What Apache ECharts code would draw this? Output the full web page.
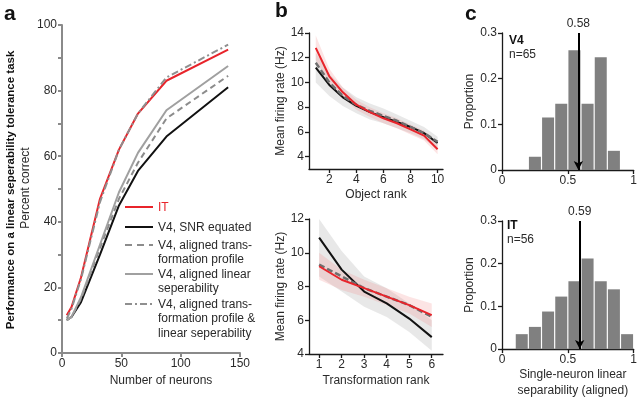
<!DOCTYPE html>
<html><head><meta charset="utf-8">
<script src="https://cdn.jsdelivr.net/npm/echarts@6/dist/echarts.min.js"></script>
<style>html,body{margin:0;padding:0;background:#fff}#c{width:640px;height:400px}</style>
</head><body><div id="c"></div>
<script>
// ---- Panel a data ----
const neurons = [4, 8, 16, 32, 48, 64, 88, 140];
const perfIT = [11.5, 14, 23, 47, 62, 73, 83, 92.5];
const perfV4SNR = [10, 11, 15.5, 30, 45, 55.5, 66, 81];
const perfAlignedTrans = [10, 11, 16.5, 32, 47, 58, 71.5, 84.5];
const perfAlignedLinSep = [10, 11, 17, 33, 49, 61, 74, 87.5];
const perfAlignedBoth = [10.5, 13.5, 22.5, 46, 62, 73, 84, 94];
const legendNames = ['IT', 'V4, SNR equated', 'V4, aligned trans-\nformation profile',
  'V4, aligned linear\nseperability', 'V4, aligned trans-\nformation profile &\nlinear seperability'];

// ---- Panel b data ----
const objRank = [1, 2, 3, 4, 5, 6, 7, 8, 9, 10];
const objIT = [12.8, 10.5, 9.2, 8.2, 7.6, 7.1, 6.7, 6.2, 5.7, 4.6];
const objITLo = [11.8, 9.9, 8.8, 7.8, 7.2, 6.7, 6.3, 5.8, 5.3, 4.2];
const objITHi = [13.8, 11.1, 9.6, 8.6, 8.0, 7.5, 7.1, 6.6, 6.1, 5.0];
const objV4 = [11.2, 9.8, 8.8, 8.1, 7.6, 7.2, 6.8, 6.4, 5.9, 5.1];
const objV4Aligned = [11.6, 10.0, 8.9, 8.2, 7.7, 7.3, 6.9, 6.4, 5.9, 5.2];
const objV4Lo = [10.0, 8.9, 8.1, 7.5, 7.0, 6.7, 6.3, 5.9, 5.4, 4.6];
const objV4Hi = [12.4, 10.7, 9.6, 8.8, 8.3, 7.9, 7.4, 6.9, 6.4, 5.6];

const trRank = [1, 2, 3, 4, 5, 6];
const trIT = [9.2, 8.4, 7.9, 7.4, 6.9, 6.3];
const trITLo = [8.4, 7.8, 7.4, 6.9, 6.4, 5.6];
const trITHi = [10.0, 9.0, 8.4, 7.9, 7.4, 7.0];
const trV4 = [10.9, 9.0, 7.7, 7.0, 6.1, 5.0];
const trV4Aligned = [9.3, 8.6, 7.9, 7.4, 6.9, 6.2];
const trV4Lo = [8.6, 7.7, 6.8, 6.2, 5.3, 4.2];
const trV4Hi = [12.0, 10.1, 8.6, 7.9, 7.0, 6.0];

// ---- Panel c data ----
const v4BinCenters = [0.25, 0.35, 0.45, 0.55, 0.65, 0.75, 0.85];
const v4Props = [0.029, 0.115, 0.145, 0.262, 0.145, 0.247, 0.042];
const v4Mean = 0.58;
const itBinCenters = [0.15, 0.25, 0.35, 0.45, 0.55, 0.65, 0.75, 0.85, 0.95];
const itProps = [0.035, 0.052, 0.088, 0.123, 0.159, 0.212, 0.159, 0.14, 0.035];
const itMean = 0.59;

const FONT = '"Liberation Sans", Arial, Helvetica, sans-serif';
const TXT = '#2a2a2a';
const RED = '#e8242b';

const zip = (xs, ys) => xs.map((x, i) => [x, ys[i]]);

function axisBase(color, width) {
  return {
    axisLine: { show: true, onZero: false, lineStyle: { color: color, width: width } },
    axisTick: { show: true, inside: false, length: 4, lineStyle: { color: color, width: width } },
    axisLabel: { color: TXT, fontSize: 12, fontFamily: FONT, margin: 5 },
    splitLine: { show: false },
    nameTextStyle: { color: TXT, fontSize: 12, fontFamily: FONT },
  };
}

// shaded band drawn through the axes' own scales
function band(xi, xs, lo, hi, color) {
  return {
    type: 'custom', xAxisIndex: xi, yAxisIndex: xi, silent: true, z: 1,
    data: xs.map((x, i) => [x, lo[i], hi[i]]),
    encode: { x: 0, y: [1, 2] },
    renderItem: function (params, api) {
      if (params.dataIndex !== 0) return null;
      const upper = xs.map((x, i) => api.coord([x, hi[i]]));
      const lower = xs.map((x, i) => api.coord([x, lo[i]])).reverse();
      return { type: 'polygon', shape: { points: upper.concat(lower) }, style: { fill: color } };
    },
  };
}
function line(xi, yi, xs, ys, color, width, type, z) {
  return { type: 'line', xAxisIndex: xi, yAxisIndex: yi, data: zip(xs, ys), symbol: 'none',
    lineStyle: { color: color, width: width, type: type || 'solid' }, z: z || 3 };
}

const grayA = '#8a8a8a';
const axBlack = '#1a1a1a';

const option = {
  animation: false,
  backgroundColor: '#fff',
  textStyle: { fontFamily: FONT },
  grid: [
    { left: 62, right: 400, top: 25, bottom: 47 },
    { left: 309, right: 197, top: 33, bottom: 231 },
    { left: 309, right: 197, top: 219, bottom: 46 },
    { left: 502, right: 0, top: 33, bottom: 230 },
    { left: 502, right: 0, top: 221, bottom: 45 },
  ],
  xAxis: [
    Object.assign(axisBase(grayA, 2), { gridIndex: 0, type: 'value', min: 0, max: 150, interval: 50,
      name: 'Number of neurons', nameLocation: 'middle', nameGap: 21,
      nameTextStyle: { color: TXT, fontSize: 12, fontFamily: FONT, padding: [0, 0, 0, 20] } }),
    Object.assign(axisBase(axBlack, 1.3), { gridIndex: 1, type: 'value', min: 0.5, max: 10.4,
      name: 'Object rank', nameLocation: 'middle', nameGap: 20 }),
    Object.assign(axisBase(axBlack, 1.3), { gridIndex: 2, type: 'value', min: 0.55, max: 6.5,
      name: 'Transformation rank', nameLocation: 'middle', nameGap: 21 }),
    Object.assign(axisBase(axBlack, 1.3), { gridIndex: 3, type: 'value', min: 0, max: 1 }),
    Object.assign(axisBase(axBlack, 1.3), { gridIndex: 4, type: 'value', min: 0, max: 1,
      name: 'Single-neuron linear\nseparability (aligned)', nameLocation: 'middle', nameGap: 10,
      nameTextStyle: { color: TXT, fontSize: 12, fontFamily: FONT, lineHeight: 16, verticalAlign: 'top', padding: [0, 0, 0, 10] } }),
  ],
  yAxis: [
    Object.assign(axisBase(grayA, 2), { gridIndex: 0, type: 'value', min: 0, max: 100, interval: 10 }),
    Object.assign(axisBase(axBlack, 1.3), { gridIndex: 1, type: 'value', min: 3, max: 14,
      name: 'Mean firing rate (Hz)', nameLocation: 'middle', nameGap: 22 }),
    Object.assign(axisBase(axBlack, 1.3), { gridIndex: 2, type: 'value', min: 4, max: 12, interval: 2,
      name: 'Mean firing rate (Hz)', nameLocation: 'middle', nameGap: 22 }),
    Object.assign(axisBase(axBlack, 1.3), { gridIndex: 3, type: 'value', min: 0, max: 0.3, interval: 0.1,
      name: 'Proportion', nameLocation: 'middle', nameGap: 26 }),
    Object.assign(axisBase(axBlack, 1.3), { gridIndex: 4, type: 'value', min: 0, max: 0.3, interval: 0.1,
      name: 'Proportion', nameLocation: 'middle', nameGap: 26 }),
  ],
  series: [],
  graphic: [],
};

// custom tick placements
option.yAxis[0].axisLabel.formatter = v => (v % 20 === 0 ? String(v) : '');
option.xAxis[1].axisLabel.customValues = [2, 4, 6, 8, 10];
option.xAxis[1].axisTick.customValues = [2, 4, 6, 8, 10];
option.yAxis[1].axisLabel.customValues = [4, 6, 8, 10, 12, 14];
option.yAxis[1].axisTick.customValues = [4, 6, 8, 10, 12, 14];
option.xAxis[2].axisLabel.customValues = [1, 2, 3, 4, 5, 6];
option.xAxis[2].axisTick.customValues = [1, 2, 3, 4, 5, 6];
[3, 4].forEach(i => {
  option.xAxis[i].axisLabel.customValues = [0, 0.5, 1];
  option.xAxis[i].axisTick.customValues = [0, 0.5, 1];
});

// Panel a series
option.series.push(
  line(0, 0, neurons, perfV4SNR, '#111', 2),
  line(0, 0, neurons, perfAlignedTrans, '#8c8c8c', 2, [6, 4]),
  line(0, 0, neurons, perfAlignedLinSep, '#a0a0a0', 2),
  line(0, 0, neurons, perfIT, RED, 2),
  line(0, 0, neurons, perfAlignedBoth, '#8f8f8f', 2, [7, 3, 2, 3], 4),
);

// Panel b series
option.series.push(
  band(1, objRank, objV4Lo, objV4Hi, 'rgba(190,190,190,0.35)'),
  band(1, objRank, objITLo, objITHi, 'rgba(240,130,130,0.22)'),
  line(1, 1, objRank, objV4, '#111', 2),
  line(1, 1, objRank, objV4Aligned, '#6f6f6f', 2.5, [6, 3]),
  line(1, 1, objRank, objIT, RED, 2),
  band(2, trRank, trV4Lo, trV4Hi, 'rgba(190,190,190,0.35)'),
  band(2, trRank, trITLo, trITHi, 'rgba(240,130,130,0.22)'),
  line(2, 2, trRank, trV4, '#111', 2),
  line(2, 2, trRank, trV4Aligned, '#6f6f6f', 2.5, [6, 3]),
  line(2, 2, trRank, trIT, RED, 2),
);

// Panel c series
function hist(xi, centers, props, mean) {
  return { type: 'bar', xAxisIndex: xi, yAxisIndex: xi, data: zip(centers, props), barWidth: 12,
    itemStyle: { color: '#808080' },
    markLine: { silent: true, symbol: ['none', 'arrow'], symbolSize: [7, 9],
      lineStyle: { color: '#000', width: 2, type: 'solid' },
      label: { show: true, position: 'start', formatter: String(mean), color: TXT, fontSize: 12, fontFamily: FONT, distance: 3 },
      data: [[{ coord: [mean, 0.3] }, { coord: [mean, 0] }]] } };
}
option.series.push(hist(3, v4BinCenters, v4Props, v4Mean), hist(4, itBinCenters, itProps, itMean));

// Graphics: panel letters, axis titles, legend, annotations
const G = option.graphic;
[['a', 4, 4], ['b', 275, 1], ['c', 465, 4]].forEach(([t, x, y]) =>
  G.push({ type: 'text', left: x, top: y, style: { text: t, font: 'bold 21px ' + FONT, fill: '#111' } }));
G.push({ type: 'text', x: 11, y: 190, rotation: Math.PI / 2,
  style: { text: 'Performance on a linear seperability tolerance task', font: 'bold 11.5px ' + FONT, fill: '#111', align: 'center', verticalAlign: 'middle' } });
G.push({ type: 'text', x: 26, y: 188, rotation: Math.PI / 2,
  style: { text: 'Percent correct', font: '12px ' + FONT, fill: TXT, align: 'center', verticalAlign: 'middle' } });
// legend
const legendStyles = [
  { stroke: RED, dash: null },
  { stroke: '#111', dash: null },
  { stroke: '#8c8c8c', dash: [7, 5] },
  { stroke: '#a0a0a0', dash: null },
  { stroke: '#8f8f8f', dash: [7, 3, 2, 3] },
];
const legendY = [207, 227, 245, 274, 304];
legendNames.forEach((n, i) => {
  G.push({ type: 'line', shape: { x1: 125, y1: legendY[i], x2: 153, y2: legendY[i] },
    style: { stroke: legendStyles[i].stroke, lineWidth: 2, lineDash: legendStyles[i].dash } });
  G.push({ type: 'text', x: 158, y: legendY[i] - 7,
    style: { text: n, font: '12px ' + FONT, fill: i === 0 ? RED : TXT, lineHeight: 14.5, verticalAlign: 'top' } });
});
// histogram annotations
G.push({ type: 'text', x: 509, y: 35, style: { text: 'V4', font: 'bold 12px ' + FONT, fill: '#111' } });
G.push({ type: 'text', x: 509, y: 49, style: { text: 'n=65', font: '12px ' + FONT, fill: TXT } });
G.push({ type: 'text', x: 507, y: 220, style: { text: 'IT', font: 'bold 12px ' + FONT, fill: '#111' } });
G.push({ type: 'text', x: 507, y: 234, style: { text: 'n=56', font: '12px ' + FONT, fill: TXT } });

const chart = echarts.init(document.getElementById('c'), null, { renderer: 'canvas' });
chart.setOption(option);
</script>
</body></html>
